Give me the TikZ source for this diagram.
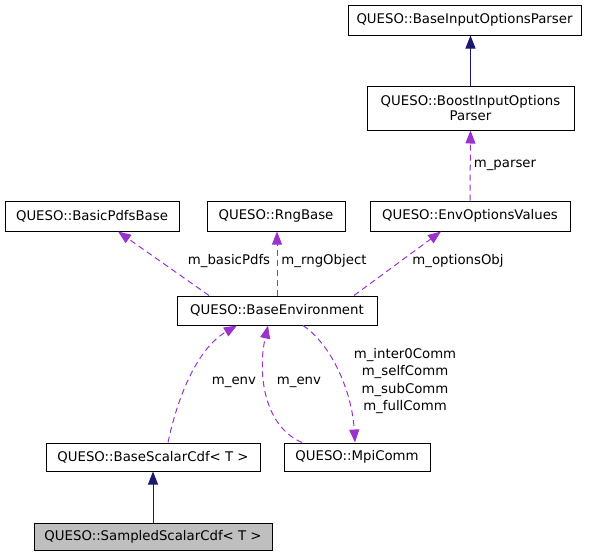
\documentclass[tikz,border=0pt]{standalone}
\usepackage{fontspec}
\setmainfont{DejaVu Sans}
\usepackage{xcolor}
\usepackage{tikz}
\usetikzlibrary{arrows.meta, positioning, calc}

\definecolor{edgepurple}{HTML}{9A32CD}
\definecolor{edgenavy}{HTML}{191970}

\tikzset{
  cls/.style={draw=black, line width=1pt, fill=white, inner sep=0pt, minimum height=30pt, font=\fontsize{13.3}{15.5}\selectfont},
  inherit/.style={draw=edgenavy, line width=1pt, -{Triangle[length=13pt, width=10pt]}},
  member/.style={draw=edgepurple, line width=1pt, dash pattern=on 6pt off 4pt, -{Triangle[length=13pt, width=10pt]}},
  lbl/.style={font=\fontsize{13.3}{17.5}\selectfont, align=center, inner sep=0pt}
}

\begin{document}
\begin{tikzpicture}[x=1pt, y=-1pt]
  \useasboundingbox (0, 0) rectangle (597, 557);

  % classes
  \node[cls, minimum width=233pt] (parser) at (464.5, 20) {QUESO::BaseInputOptionsParser};
  \node[cls, minimum width=207pt, minimum height=44pt, align=center] (boost) at (470.5, 108) {QUESO::BoostInputOptions\\Parser};
  \node[cls, minimum width=174pt] (pdfs) at (92, 216) {QUESO::BasicPdfsBase};
  \node[cls, minimum width=138pt] (rng) at (276, 216) {QUESO::RngBase};
  \node[cls, minimum width=200pt] (opts) at (470, 216) {QUESO::EnvOptionsValues};
  \node[cls, minimum width=200pt, minimum height=29pt] (env) at (277, 310.5) {QUESO::BaseEnvironment};
  \node[cls, minimum width=214pt, minimum height=28pt] (cdf) at (153, 457) {QUESO::BaseScalarCdf< T >};
  \node[cls, minimum width=146pt, minimum height=28pt] (mpi) at (357, 457) {QUESO::MpiComm};
  \node[cls, minimum width=238pt, minimum height=27pt, fill=black!25] (sampled) at (153, 536.5) {QUESO::SampledScalarCdf< T >};

  % inheritance
  \draw[inherit] (boost.north) -- (boost.north |- parser.south);
  \draw[inherit] (sampled.north) -- (cdf.south);

  % members
  \draw[member] (opts.north) -- (boost.south);
  \draw[member] ([xshift=-68pt]env.north) -- ([xshift=26pt]pdfs.south);
  \draw[member] ([xshift=0pt]env.north) -- ([xshift=1pt]rng.south);
  \draw[member] ([xshift=77pt]env.north) -- ([xshift=-29pt]opts.south);
  \draw[member] ([xshift=15pt]cdf.north) .. controls (178, 395) and (198, 348) .. ([xshift=-40pt]env.south);
  \draw[member] ([xshift=-55pt]mpi.north) .. controls (262, 425) and (258, 370) .. ([xshift=-9pt]env.south);
  \draw[member] ([xshift=26pt]env.south) .. controls (332, 345) and (352, 392) .. ([xshift=-2pt]mpi.north);

  % labels
  \node[lbl] (lparser) at (505, 165) {m\_parser};
  \node[lbl] (lpdfs) at (229, 261) {m\_basicPdfs};
  \node[lbl] (lrng) at (324, 261) {m\_rngObject};
  \node[lbl] (lopts) at (458, 261) {m\_optionsObj};
  \node[lbl] (lenvcdf) at (234, 382) {m\_env};
  \node[lbl] (lenvmpi) at (299, 382) {m\_env};
  \node[lbl] (lcomm) at (405, 381) {m\_inter0Comm\\m\_selfComm\\m\_subComm\\m\_fullComm};
\end{tikzpicture}
\end{document}
